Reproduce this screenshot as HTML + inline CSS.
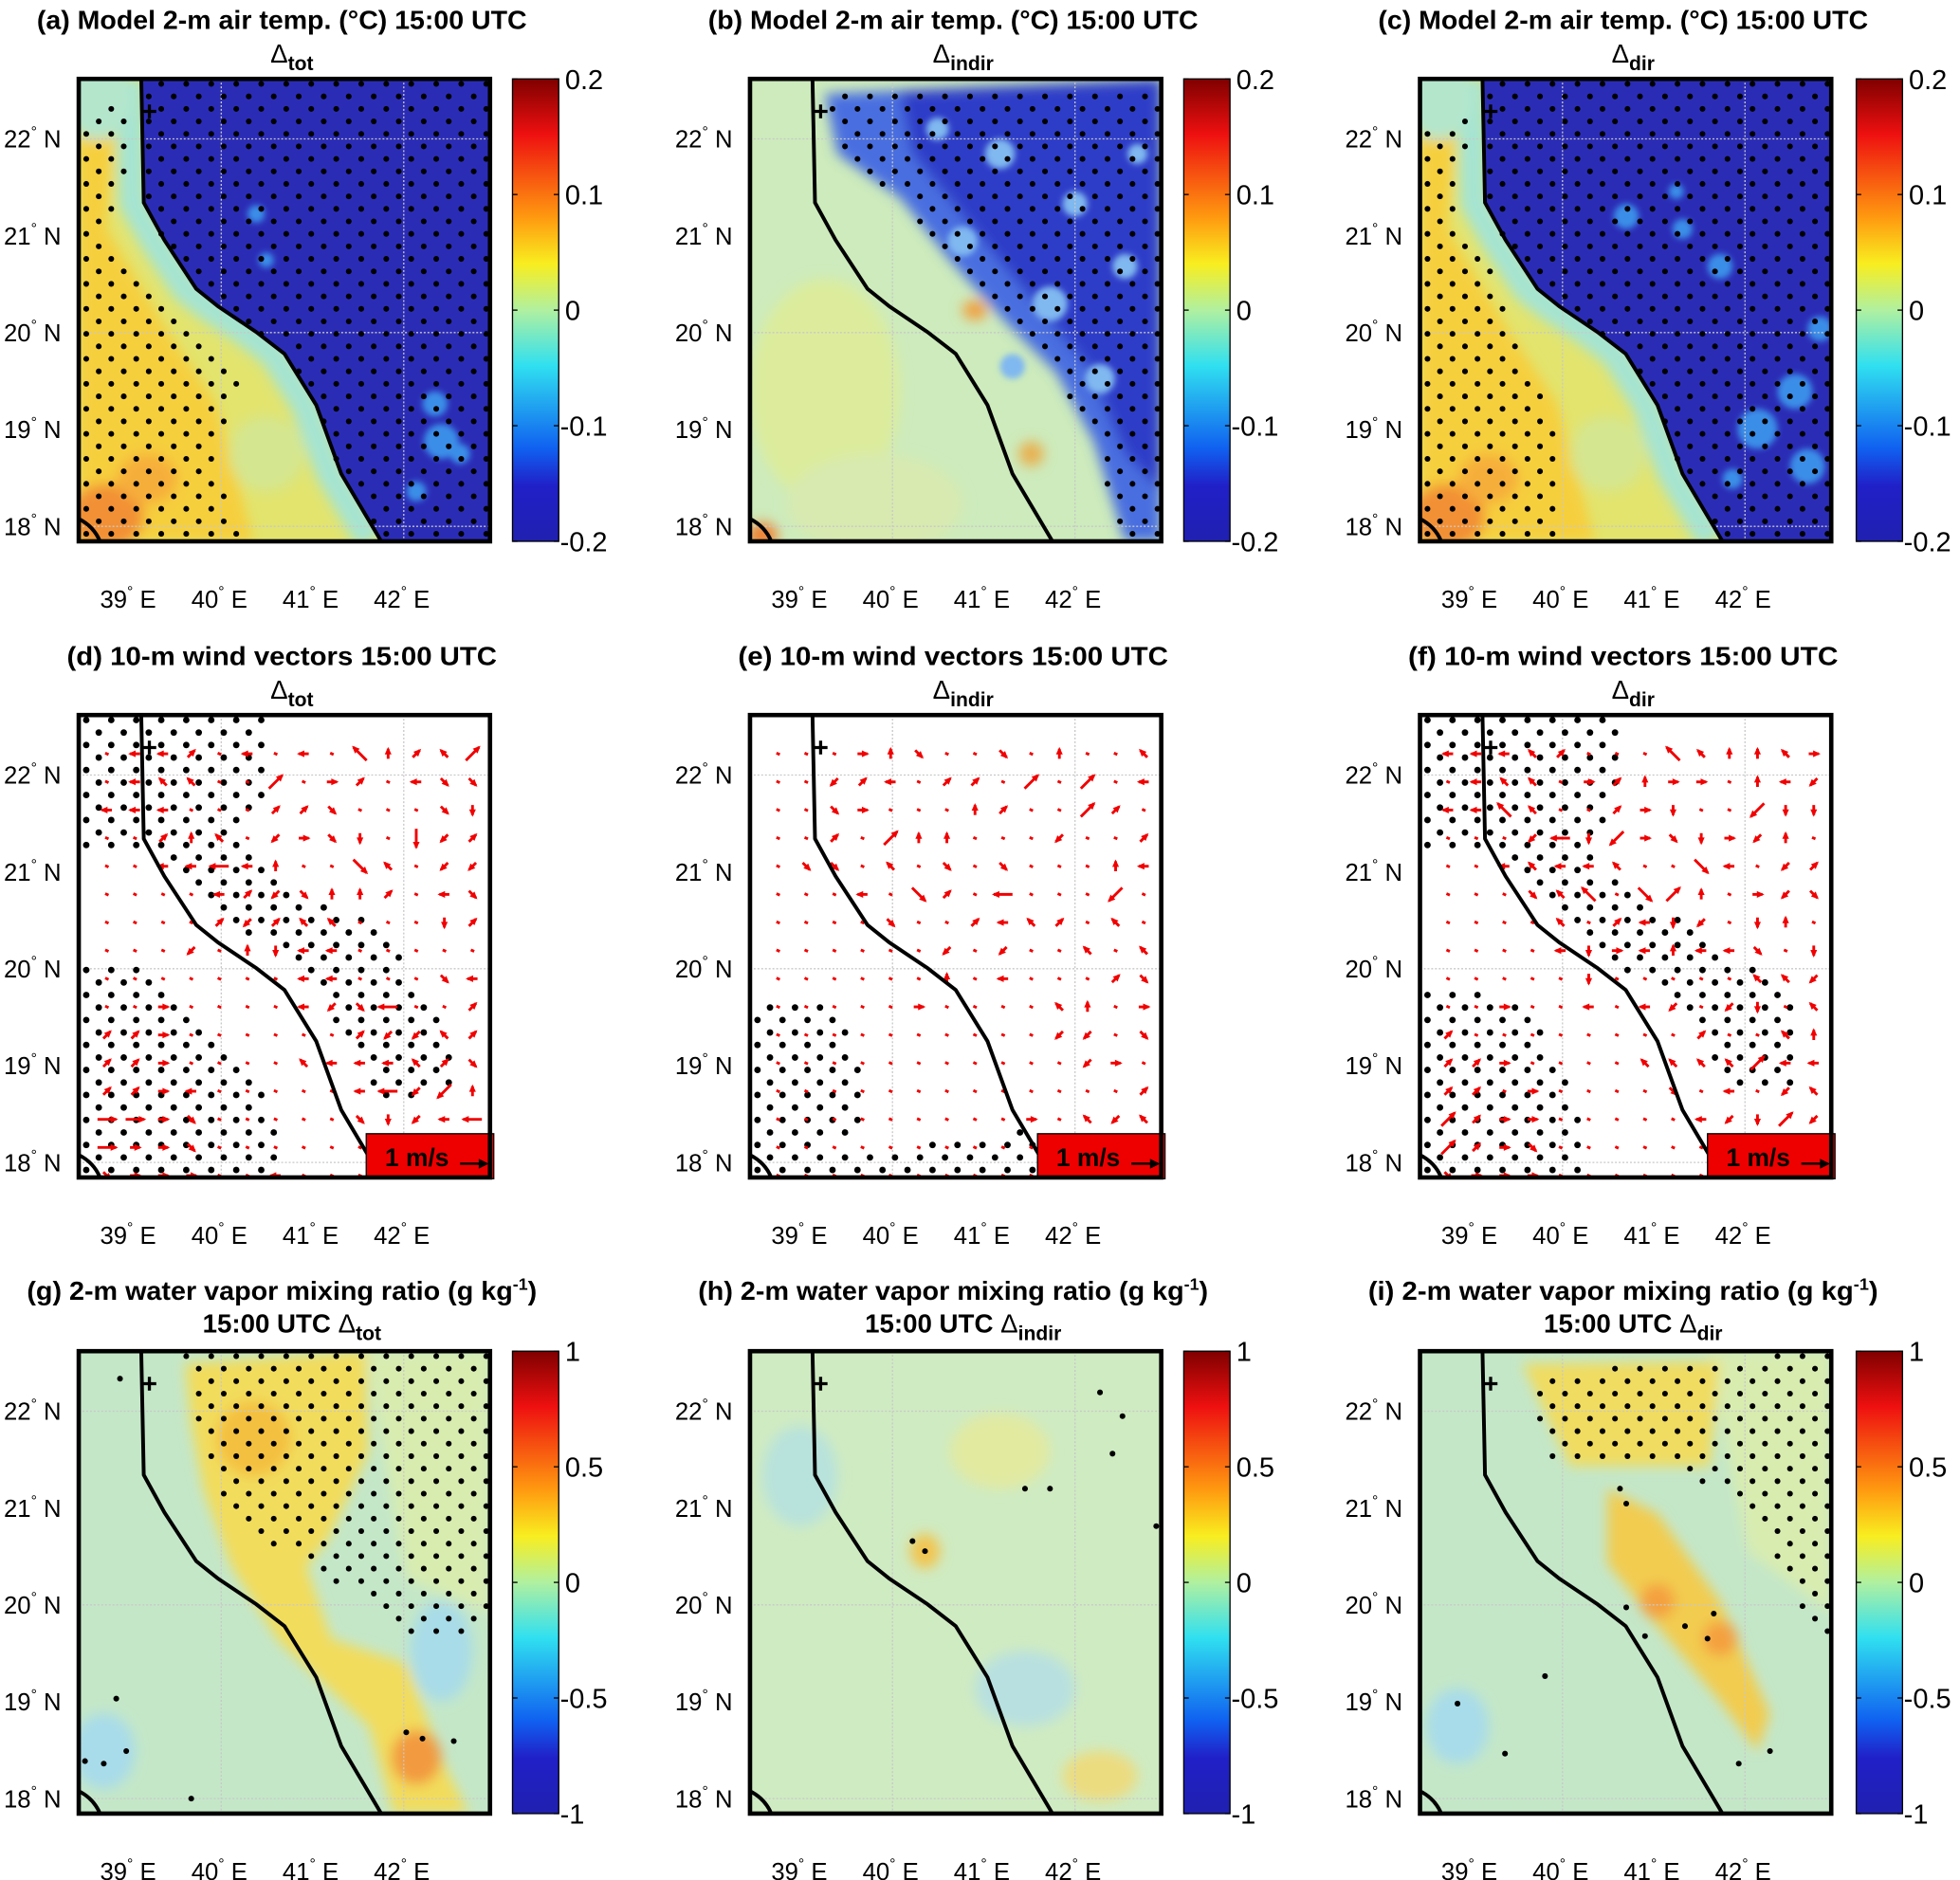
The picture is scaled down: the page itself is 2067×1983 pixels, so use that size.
<!DOCTYPE html>
<html><head><meta charset="utf-8"><style>
html,body{margin:0;padding:0;background:#fff}
svg{display:block}
text{font-family:"Liberation Sans",Arial,sans-serif}
</style></head><body>
<svg id="fig" xmlns="http://www.w3.org/2000/svg" width="2067" height="1983" viewBox="0 0 1568 1504">
<defs>
<linearGradient id="jet" x1="0" y1="0" x2="0" y2="1">
<stop offset="0" stop-color="#800000"/><stop offset="0.12" stop-color="#ee1010"/><stop offset="0.3" stop-color="#ff9a10"/><stop offset="0.4" stop-color="#f8ee20"/><stop offset="0.5" stop-color="#b0f0a0"/><stop offset="0.62" stop-color="#30e0f0"/><stop offset="0.8" stop-color="#1060f0"/><stop offset="0.88" stop-color="#2020c8"/><stop offset="1" stop-color="#2020b0"/>
</linearGradient>
<filter id="bl" x="-20%" y="-20%" width="140%" height="140%"><feGaussianBlur stdDeviation="5"/></filter>
<filter id="bl2" x="-20%" y="-20%" width="140%" height="140%"><feGaussianBlur stdDeviation="2.5"/></filter>
<clipPath id="mapclip"><rect x="0" y="0" width="329" height="370"/></clipPath>
</defs>
<g id="root"></g>
</svg>
<script>
// ---- data ----
const latTicks = ["22", "21", "20", "19", "18"];
const latValues = [22, 21, 20, 19, 18];
const lonTicks = ["39", "40", "41", "42"];
const lonValues = [39, 40, 41, 42];
const tempCbTicks = ["0.2", "0.1", "0", "-0.1", "-0.2"];
const tempCbValues = [0.2, 0.1, 0, -0.1, -0.2];
const qCbTicks = ["1", "0.5", "0", "-0.5", "-1"];
const qCbValues = [1, 0.5, 0, -0.5, -1];
const panelLetters = ["a","b","c","d","e","f","g","h","i"];
const subLabels = ["tot","indir","dir"];
// wind vector direction codes (numpad dirs; digits = medium, letters = long; '.' = ~0)
const windD = [
".449.4.4.Q89 7E".replace(" ",""),
".477..E.69.43".padEnd(13,".")+"3",
"444...993...32",
"..987.163 2.X19".replace(" ",""),
"..44A48..C7.11",
"....491388 9.43".replace(" ",""),
"....919 77...29".replace(" ",""),
"...1.8244.....",
".......44...34",
"..6....413A..9",
"996......91179",
"996....74447 93".replace(" ",""),
"9964.....4A1Z8",
"DD63.....321 4A".replace(" ",""),
"D663..........",
"3666..4......."
];
const windE = [
"...683..3.8..7",
"..194.99.E.E.4",
"..36...89..E9.",
"..9.E88...1..9",
".33.7.3.3...84",
"...4.C9.A...Z.",
"....3..9479.7.",
"......1.1..7.7",
"......8.4...93",
".....6....78.6",
"..........11.3",
"...........16.",
".............9",
".........6.717",
"..............",
".............."
];
const windF = [
"4447 9...Q7887 6".replace(/ /g,""),
".477.69866.841C".slice(0,14),
"44Q7..962..Z22",
"...1A2Z6326 18.".replace(" ",""),
"..4744 7..C4.19".replace(" ",""),
"...37Q.CE8.613",
"....7.942 1.28".replace(" ",""),
"....42648443.2",
".....2.....771",
"..6..4.41.12.7",
"9........9..78",
"996....7777E4".padEnd(14,"4"),
"99.6....3.4.17",
"E966.....412E1",
"E963..........",
"3666.........."
];
// ---- layout helpers ----
const NS = "http://www.w3.org/2000/svg";
const root = document.getElementById("root");
const colX = [63, 600, 1136];
const rowY = [63, 572, 1081];
const MW = 329, MH = 370;
function latY(lat){ return 48 + (22 - lat) * 77.5; }
function lonX(lon){ return 114 + (lon - 40) * 73; }
function mk(tag, attrs, parent){
  const e = document.createElementNS(NS, tag);
  for (const k in attrs) e.setAttribute(k, attrs[k]);
  if (parent) parent.appendChild(e);
  return e;
}
const coast = [[50,0],[52,99],[68.5,129],[94,168],[111.5,182],[142,202.5],[164.6,220],[190,261],[210,316],[242,370]];
const coastD = "M" + coast.map(p => p.join(",")).join(" L");
const seaD = coastD + " L329,370 L329,0 Z";
function poly(pts){ return "M" + pts.map(p=>p.join(",")).join(" L") + " Z"; }
function inPoly(x, y, pts){
  let c = false;
  for (let i = 0, j = pts.length - 1; i < pts.length; j = i++){
    const xi = pts[i][0], yi = pts[i][1], xj = pts[j][0], yj = pts[j][1];
    if (((yi > y) !== (yj > y)) && (x < (xj - xi) * (y - yi) / (yj - yi) + xi)) c = !c;
  }
  return c;
}
const seaPoly = coast.concat([[329,370],[329,0]]);
const stipple = {
  a: [seaPoly, [[0,30],[45,15],[40,80],[22,120],[60,170],[100,200],[130,240],[112,300],[130,370],[0,370]]],
  b: [[[60,12],[329,5],[329,370],[300,370],[275,290],[245,235],[205,195],[160,145],[120,95],[70,60]]],
  c: [seaPoly, [[0,40],[40,30],[32,110],[60,160],[85,230],[112,280],[112,370],[0,370]]],
  d: [[[0,0],[150,0],[150,60],[132,100],[160,130],[190,150],[232,162],[262,200],[292,232],[300,300],[242,310],[222,272],[182,202],[130,172],[100,142],[60,112],[0,112]],
      [[0,195],[40,200],[82,222],[122,262],[150,300],[165,370],[0,370]]],
  e: [[[0,232],[70,232],[95,300],[95,330],[60,345],[130,345],[230,330],[240,370],[0,370]]],
  f: [[[0,0],[160,0],[160,60],[140,120],[182,150],[222,162],[262,200],[300,222],[300,300],[252,300],[222,252],[162,202],[120,162],[100,142],[60,112],[0,112]],
      [[0,212],[90,232],[120,300],[140,370],[0,370]]],
  g: [[[82,0],[329,0],[329,222],[282,232],[242,212],[202,182],[152,152],[112,122],[92,52]]],
  h: [],
  i: [[[92,18],[329,0],[329,232],[300,202],[262,122],[200,92],[100,92]]]
};
const extraDots = {
  g: [[33,22],[30,278],[5,328],[20,330],[38,320],[90,358],[262,305],[275,310],[300,312]],
  h: [[280,33],[298,52],[290,82],[220,110],[240,110],[130,152],[140,160],[325,140]],
  i: [[160,110],[165,122],[165,205],[180,228],[212,220],[230,230],[235,210],[30,282],[68,322],[100,260],[255,330],[280,320]]
};
// ---- fields ----
function fieldTemp(g, kind){
  if (kind === "b"){
    mk("rect",{x:0,y:0,width:MW,height:MH,fill:"#cdebbc"},g);
    const f = mk("g",{filter:"url(#bl)"},g);
    mk("ellipse",{cx:60,cy:250,rx:60,ry:90,fill:"#dcec9c"},f);
    mk("ellipse",{cx:100,cy:340,rx:70,ry:40,fill:"#d8eab0"},f);
    mk("path",{d:poly([[60,12],[329,0],[329,370],[300,370],[275,290],[245,235],[205,195],[160,145],[120,95],[70,60]]),fill:"#4a6ee0"},f);
    mk("path",{d:poly([[120,10],[329,0],[329,330],[300,300],[270,230],[220,170],[170,110],[130,60]]),fill:"#2e3ec8"},f);
    mk("ellipse",{cx:180,cy:185,rx:10,ry:8,fill:"#f0a040"},f);
    mk("ellipse",{cx:225,cy:300,rx:10,ry:10,fill:"#e8b050"},f);
    mk("ellipse",{cx:10,cy:365,rx:12,ry:10,fill:"#f08030"},f);
    const s = mk("g",{filter:"url(#bl2)"},g);
    [[200,60,12],[260,100,10],[170,130,12],[240,180,14],[300,150,10],[280,240,12],[210,230,10],[310,60,8],[150,40,9]].forEach(p=>{
      mk("circle",{cx:p[0],cy:p[1],r:p[2],fill:"#80b8f0"},s);
    });
    return;
  }
  mk("rect",{x:0,y:0,width:MW,height:MH,fill:"#e2e46e"},g);
  const f = mk("g",{filter:"url(#bl)"},g);
  mk("path",{d:poly([[0,40],[30,30],[22,120],[70,200],[110,260],[140,370],[0,370]]),fill:"#f6cf3c"},f);
  mk("path",{d:coastD,fill:"none",stroke:"#a6e4d2","stroke-width":22,transform:"translate(-9,0)"},f);
  mk("ellipse",{cx:15,cy:15,rx:28,ry:34,fill:"#b4e6cc"},f);
  mk("ellipse",{cx:22,cy:350,rx:30,ry:26,fill:"#f29034"},f);
  mk("ellipse",{cx:55,cy:320,rx:24,ry:20,fill:"#f6ae3a"},f);
  mk("ellipse",{cx:150,cy:300,rx:30,ry:30,fill:"#d4e690"},f);
  mk("path",{d:seaD,fill:"#2b2cb6"},g);
  const s = mk("g",{filter:"url(#bl2)"},g);
  const spots = kind === "a" ? [[142,108,7],[150,145,6],[285,260,10],[290,290,14],[270,330,8],[305,300,8]]
                             : [[165,110,10],[210,120,8],[240,150,10],[205,90,6],[270,280,16],[300,250,14],[310,310,14],[250,320,8],[320,200,10]];
  spots.forEach(p=>{ mk("circle",{cx:p[0],cy:p[1],r:p[2],fill:"#3a8ee8"},s); });
}
function fieldQ(g, kind){
  mk("rect",{x:0,y:0,width:MW,height:MH,fill:kind==="h"?"#cfebc2":"#c4e7c8"},g);
  const f = mk("g",{filter:"url(#bl)"},g);
  if (kind === "g"){
    mk("path",{d:poly([[230,0],[329,0],[329,210],[262,182]]),fill:"#d8ecb0"},f);
    mk("path",{d:poly([[85,10],[230,0],[232,80],[200,150],[182,172],[202,230],[262,250],[292,330],[312,370],[252,370],[232,300],[200,270],[160,232],[122,172],[100,112],[90,60]]),fill:"#f2dc5c"},f);
    mk("ellipse",{cx:140,cy:70,rx:30,ry:30,fill:"#f4c040"},f);
    mk("ellipse",{cx:270,cy:325,rx:20,ry:22,fill:"#f29a40"},f);
    mk("ellipse",{cx:20,cy:320,rx:25,ry:30,fill:"#a8dcea"},f);
    mk("ellipse",{cx:290,cy:240,rx:25,ry:40,fill:"#a8dce8"},f);
  } else if (kind === "h"){
    mk("ellipse",{cx:140,cy:160,rx:12,ry:14,fill:"#f2c450"},f);
    mk("ellipse",{cx:200,cy:80,rx:40,ry:30,fill:"#e2eaa0"},f);
    mk("ellipse",{cx:280,cy:340,rx:30,ry:20,fill:"#ecdc80"},f);
    mk("ellipse",{cx:40,cy:100,rx:30,ry:40,fill:"#b8e2dc"},f);
    mk("ellipse",{cx:220,cy:270,rx:40,ry:30,fill:"#b8e0e0"},f);
  } else {
    mk("path",{d:poly([[230,0],[329,0],[329,210],[262,160]]),fill:"#d8ecb0"},f);
    mk("path",{d:poly([[82,10],[240,8],[232,92],[120,92]]),fill:"#f0dc60"},f);
    mk("path",{d:poly([[150,110],[190,130],[240,200],[280,290],[270,320],[240,280],[190,220],[150,170]]),fill:"#f2cc50"},f);
    mk("ellipse",{cx:190,cy:200,rx:14,ry:14,fill:"#f4a040"},f);
    mk("ellipse",{cx:240,cy:230,rx:14,ry:14,fill:"#f4a040"},f);
    mk("ellipse",{cx:30,cy:300,rx:25,ry:30,fill:"#a8dcea"},f);
  }
}
// ---- build panels ----
for (let r = 0; r < 3; r++){
  for (let c = 0; c < 3; c++){
    const L = panelLetters[r*3 + c];
    const ox = colX[c], oy = rowY[r];
    const pg = mk("g",{transform:`translate(${ox},${oy})`}, root);
    
    
    // title
    const tt = mk("text",{x:MW/2 - 2, "text-anchor":"middle","font-weight":"bold","font-size":21,"lengthAdjust":"spacingAndGlyphs"}, pg);
    if (r === 0){
      tt.setAttribute("y", -40);
      tt.textContent = `(${L}) Model 2-m air temp. (°C) 15:00 UTC`;
      tt.setAttribute("textLength", 392);
    } else if (r === 1){
      tt.setAttribute("y", -40);
      tt.textContent = `(${L}) 10-m wind vectors 15:00 UTC`;
      tt.setAttribute("textLength", 344);
    } else {
      tt.setAttribute("y", -41);
      tt.textContent = `(${L}) 2-m water vapor mixing ratio (g kg`;
      const sup = mk("tspan",{dy:-8,"font-size":13},tt); sup.textContent = "-1";
      const cl = mk("tspan",{dy:8},tt); cl.textContent = ")";
      tt.setAttribute("textLength", 408);
    }
    
    
    const st = mk("text",{x:MW/2 + 6, y: r===2 ? -15 : -13, "text-anchor":"middle","font-size":21}, pg);
    if (r === 2){
      const pre = mk("tspan",{"font-weight":"bold"},st); pre.textContent = "15:00 UTC ";
    }
    const dl = mk("tspan",{},st); dl.textContent = "Δ";
    const sb = mk("tspan",{dy:6,"font-size":16,"font-weight":"bold"},st); sb.textContent = subLabels[c];
    
    
    // map
    const mg = mk("g",{"clip-path":"url(#mapclip)"}, pg);
    
    
    if (r === 0) fieldTemp(mg, L);
    else if (r === 2) fieldQ(mg, L);
    else mk("rect",{x:0,y:0,width:MW,height:MH,fill:"#ffffff"},mg);
    // gridlines
    [40, 42].forEach(lon => {
      const gl = mk("line",{x1:lonX(lon),x2:lonX(lon),y1:0,y2:MH,stroke:"#c8c8c8","stroke-width":1,"stroke-dasharray":"1.5,1.5"},mg);
      
      
    });
    [22, 20, 18].forEach(lat => {
      const gl = mk("line",{x1:0,x2:MW,y1:latY(lat),y2:latY(lat),stroke:"#c8c8c8","stroke-width":1,"stroke-dasharray":"1.5,1.5"},mg);
      
      
    });
    // stipple
    const dg = mk("g",{fill:"#000"}, mg);
    
    
    const rad = r === 1 ? 2.6 : 2.3;
    for (let k = 0; k < 38; k++){
      const y = 4 + k * 10;
      for (let m = -1; m < 18; m++){
        const x = (k % 2 ? 16 : 6) + m * 20;
        if (x < 2 || x > MW - 2) continue;
        if (stipple[L].some(p => inPoly(x, y, p))) mk("circle",{cx:x,cy:y,r:rad},dg);
      }
    }
    (extraDots[L] || []).forEach(p => mk("circle",{cx:p[0],cy:p[1],r:rad},dg));
    // wind vectors
    if (r === 1){
      const rows = [windD, windE, windF][c];
      const wg = mk("g",{stroke:"#f00000",fill:"#f00000","stroke-width":2.2}, mg);
      
      
      const dirs = {"8":[0,-1],"2":[0,1],"4":[-1,0],"6":[1,0],"7":[-.71,-.71],"9":[.71,-.71],"1":[-.71,.71],"3":[.71,.71]};
      const longMap = {"Q":"7","W":"8","E":"9","A":"4","D":"6","Z":"1","X":"2","C":"3"};
      rows.forEach((row, ri) => {
        for (let ci = 0; ci < 14; ci++){
          const ch = row[ci] || ".";
          const cx = 22.5 + ci * 22.5, cy = 31 + ri * 22.5;
          let len = 3, d = [0.9,0.4];
          if (dirs[ch]){ len = 8; d = dirs[ch]; }
          else if (longMap[ch]){ len = 15; d = dirs[longMap[ch]]; }
          const x1 = cx - d[0]*len/2, y1 = cy - d[1]*len/2, x2 = cx + d[0]*len/2, y2 = cy + d[1]*len/2;
          const ln = mk("line",{x1:x1,y1:y1,x2:x2,y2:y2}, wg);
          
          
          if (len > 3){
            const h = 4.5, px = -d[1], py = d[0];
            const hd = mk("path",{d:`M${x2+d[0]*1.5},${y2+d[1]*1.5} L${x2-d[0]*h+px*h*0.6},${y2-d[1]*h+py*h*0.6} L${x2-d[0]*h-px*h*0.6},${y2-d[1]*h-py*h*0.6} Z`,stroke:"none"}, wg);
            
            
          }
        }
      });
    }
    // coastline, corner, marker
    const cl = mk("path",{d:coastD,fill:"none",stroke:"#000","stroke-width":3}, mg);
    
    
    const cc = mk("path",{d:"M0,352 Q12,358 17,370",fill:"none",stroke:"#000","stroke-width":3}, mg);
    
    
    const pl = mk("path",{d:"M51,26 h11 M56.5,20.5 v11",stroke:"#000","stroke-width":2.5}, mg);
    
    
    // legend box
    if (r === 1){
      const lg = mk("g",{}, pg);
      
      
      mk("rect",{x:230,y:335,width:102,height:36,fill:"#ee0000",stroke:"#000","stroke-width":1},lg);
      const lt = mk("text",{x:245,y:361,"font-size":20,"font-weight":"bold",fill:"#000"},lg);
      lt.textContent = "1 m/s";
      mk("line",{x1:305,y1:359,x2:323,y2:359,stroke:"#000","stroke-width":1.8},lg);
      mk("path",{d:"M328,359 L320,355 L320,363 Z",fill:"#000"},lg);
    }
    // border
    const bd = mk("rect",{x:0,y:0,width:MW,height:MH,fill:"none",stroke:"#000","stroke-width":3.5}, pg);
    
    
    // lat labels
    latTicks.forEach((t, i) => {
      const tx = mk("text",{x:-14,y:latY(latValues[i]) + 7,"text-anchor":"end","font-size":19.5}, pg);
      tx.textContent = t;
      const dg2 = mk("tspan",{dy:-9,"font-size":12},tx); dg2.textContent = "°";
      const nn = mk("tspan",{dy:9},tx); nn.textContent = " N";
      
      
    });
    // lon labels
    lonTicks.forEach((t, i) => {
      const tx = mk("text",{x:lonX(lonValues[i]) - 24,y:MH + 53,"font-size":19.5}, pg);
      tx.textContent = t;
      const dg2 = mk("tspan",{dy:-9,"font-size":12},tx); dg2.textContent = "°";
      const nn = mk("tspan",{dy:9},tx); nn.textContent = " E";
      
      
    });
    // colorbar
    if (r !== 1){
      const cbx = MW + 18 + (c === 2 ? 2 : 0);
      const cb = mk("g",{}, pg);
      
      
      mk("rect",{x:cbx,y:0,width:37,height:MH,fill:"url(#jet)",stroke:"#000","stroke-width":1},cb);
      const ticks = r === 0 ? tempCbTicks : qCbTicks;
      const vals = r === 0 ? tempCbValues : qCbValues;
      const vmax = vals[0], vmin = vals[vals.length-1];
      ticks.forEach((t, i) => {
        const ty = (vmax - vals[i]) / (vmax - vmin) * MH;
        mk("line",{x1:cbx,x2:cbx+4,y1:ty,y2:ty,stroke:"#000","stroke-width":1},cb);
        mk("line",{x1:cbx+33,x2:cbx+37,y1:ty,y2:ty,stroke:"#000","stroke-width":1},cb);
        const tx = mk("text",{x:cbx + (vals[i] < 0 ? 38 : 42),y:ty + 8,"font-size":22},cb);
        tx.textContent = t;
        
        
      });
    }
  }
}
</script>
</body></html>
